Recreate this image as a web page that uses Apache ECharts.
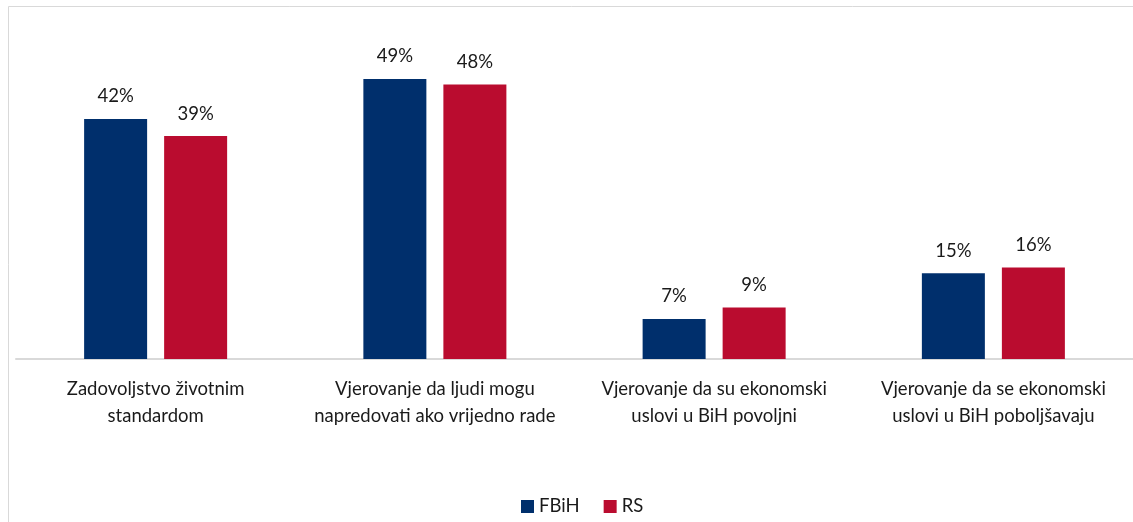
<!DOCTYPE html>
<html><head><meta charset="utf-8">
<script src="https://cdn.jsdelivr.net/npm/echarts@6/dist/echarts.min.js"></script>
<style>html,body{margin:0;padding:0;background:#fff}#c{width:1133px;height:522px}</style>
</head><body><div id="c"></div>
<script>
const categories = [
  "Zadovoljstvo životnim\nstandardom",
  "Vjerovanje da ljudi mogu\nnapredovati ako vrijedno rade",
  "Vjerovanje da su ekonomski\nuslovi u BiH povoljni",
  "Vjerovanje da se ekonomski\nuslovi u BiH poboljšavaju"
];
const seriesNames = ["FBiH", "RS"];
const fbih = [42, 49, 7, 15];
const rs = [39, 48, 9, 16];

const font = "Lato, 'Open Sans', sans-serif";
const chart = echarts.init(document.getElementById('c'));
chart.setOption({
  backgroundColor: '#fff',
  animation: false,
  graphic: [{
    type: 'rect', shape: {x: 8.5, y: 6.5, width: 1200, height: 600},
    style: {fill: 'none', stroke: '#d9d9d9', lineWidth: 1}, silent: true, z: -10
  }],
  grid: {left: 16, right: -3, top: 16, bottom: 163, containLabel: false},
  legend: {
    data: seriesNames, bottom: 1, left: 516, itemWidth: 13, itemHeight: 13,
    icon: 'rect', itemGap: 24,
    textStyle: {fontFamily: font, fontSize: 18.5, color: '#1a1a1a'}
  },
  xAxis: {
    type: 'category', data: categories,
    axisLine: {lineStyle: {color: '#d9d9d9', width: 2}},
    axisTick: {show: false},
    axisLabel: {interval: 0, margin: 17, fontFamily: font, fontSize: 18.5, color: '#1a1a1a', lineHeight: 27}
  },
  yAxis: {type: 'value', min: 0, max: 60, show: false, splitLine: {show: false}},
  series: [
    {name: seriesNames[0], type: 'bar', data: fbih, barWidth: 63, barGap: '27%',
     itemStyle: {color: '#002F6C'},
     label: {show: true, position: 'top', distance: 13, formatter: '{c}%', fontFamily: font, fontSize: 18.5, color: '#1a1a1a'}},
    {name: seriesNames[1], type: 'bar', data: rs, barWidth: 63,
     itemStyle: {color: '#BA0C2F'},
     label: {show: true, position: 'top', distance: 13, formatter: '{c}%', fontFamily: font, fontSize: 18.5, color: '#1a1a1a'}}
  ]
});
</script></body></html>
